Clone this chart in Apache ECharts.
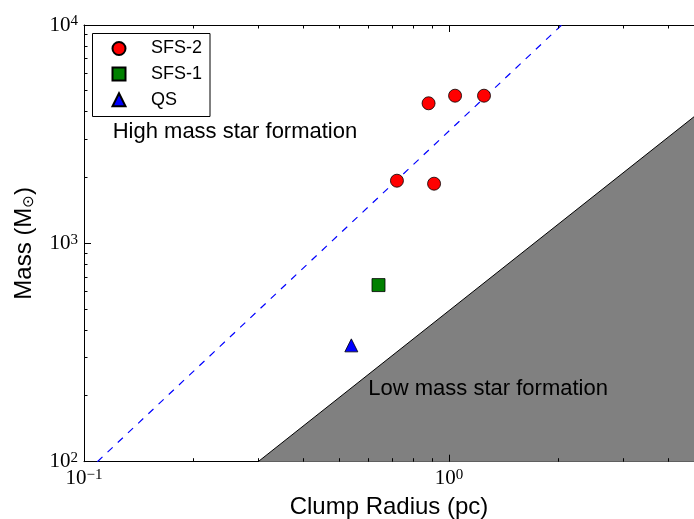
<!DOCTYPE html>
<html>
<head>
<meta charset="utf-8">
<script src="https://cdn.jsdelivr.net/npm/echarts@6/dist/echarts.min.js"></script>
<style>
  html, body { margin: 0; padding: 0; background: #fff; }
  #chart { width: 694px; height: 519px; }
</style>
</head>
<body>
<div id="chart"></div>
<script>
// Clump radius (pc) and mass (Msun) per evolutionary class
const sfs2Radius = [0.879, 1.039, 1.247, 0.720, 0.910];
const sfs2Mass   = [4380, 4745, 4745, 1936, 1876];
const sfs1Radius = [0.641];
const sfs1Mass   = [644];
const qsRadius   = [0.540];
const qsMass     = [341];

// Dashed high-mass threshold line (end points)
const highLineRadius = [0.1088, 2.036];
const highLineMass   = [100, 10000];

// Edge of the low-mass region (end points)
const lowEdgeRadius = [0.3, 4.69];
const lowEdgeMass   = [100, 3800];

// Axis extents and ticks
const xRange = [0.1, 4.69];
const yRange = [100, 10000];
const xMajorTicks = [0.1, 1];
const xMinorTicks = [0.2, 0.3, 0.4, 0.5, 0.6, 0.7, 0.8, 0.9, 2, 3, 4];
const yMajorTicks = [100, 1000, 10000];
const yMinorTicks = [200, 300, 400, 500, 600, 700, 800, 900,
                     2000, 3000, 4000, 5000, 6000, 7000, 8000, 9000];

const seriesNames = ['SFS-2', 'SFS-1', 'QS'];
const regionLabels = ['High mass star formation', 'Low mass star formation'];

const zip = (a, b) => a.map((v, i) => [v, b[i]]);

function isPow10(v) {
  const e = Math.log10(v);
  return Math.abs(e - Math.round(e)) < 1e-6;
}
function powLabel(v) {
  if (!isPow10(v)) return '';
  const r = Math.round(Math.log10(v));
  return '{b|10}{s|' + (r < 0 ? '\u2212' + (-r) : r) + '}';
}
const tickRich = {
  b: { fontFamily: 'Liberation Serif', fontSize: 21, color: '#000', lineHeight: 22 },
  s: { fontFamily: 'Liberation Serif', fontSize: 15, color: '#000', verticalAlign: 'top', lineHeight: 15, padding: [0, 0, 8, 0] }
};

const snap = p => Math.round(p - 0.5) + 0.5;
const tickStyle = { stroke: '#000', lineWidth: 1 };

// inward ticks on bottom/top for x, left for y
function xTickItem(params, api) {
  const cs = params.coordSys;
  const v = api.value(0);
  const len = isPow10(v) ? 7 : 3.5;
  const px = snap(api.coord([v, yRange[0]])[0]);
  const bottom = cs.y + cs.height, top = cs.y;
  return {
    type: 'group',
    children: [
      { type: 'line', shape: { x1: px, y1: bottom, x2: px, y2: bottom - len }, style: tickStyle },
      { type: 'line', shape: { x1: px, y1: top, x2: px, y2: top + len }, style: tickStyle }
    ]
  };
}
function yTickItem(params, api) {
  const cs = params.coordSys;
  const v = api.value(1);
  const len = isPow10(v) ? 7 : 3.5;
  const py = snap(api.coord([xRange[0], v])[1]);
  const left = cs.x;
  return {
    type: 'line',
    shape: { x1: left, y1: py, x2: left + len, y2: py },
    style: tickStyle
  };
}

const chart = echarts.init(document.getElementById('chart'), null, { renderer: 'canvas' });

const axisLineStyle = { show: true, lineStyle: { color: '#000', width: 1 } };

chart.setOption({
  animation: false,
  backgroundColor: '#fff',
  grid: { left: 84, top: 25, right: 0, bottom: 57.3, containLabel: false, outerBoundsMode: 'none' },
  xAxis: [
    {
      type: 'log', logBase: 10, min: xRange[0], max: xRange[1], position: 'bottom',
      axisLine: axisLineStyle, axisTick: { show: false }, splitLine: { show: false },
      axisLabel: { formatter: powLabel, rich: tickRich, margin: 6, showMaxLabel: false },
      name: 'Clump Radius (pc)', nameLocation: 'middle', nameGap: 33,
      nameTextStyle: { fontFamily: 'Liberation Sans', fontSize: 24, color: '#000' }
    },
    {
      type: 'log', logBase: 10, min: xRange[0], max: xRange[1], position: 'top',
      axisLine: axisLineStyle, axisTick: { show: false }, axisLabel: { show: false }, splitLine: { show: false }
    }
  ],
  yAxis: {
    type: 'log', logBase: 10, min: yRange[0], max: yRange[1],
    axisLine: axisLineStyle, axisTick: { show: false }, splitLine: { show: false },
    axisLabel: { formatter: powLabel, rich: tickRich, margin: 6 },
    name: '{n|Mass (M}{sub|\u2299}{n|)}', nameLocation: 'middle', nameGap: 47, nameRotate: 90,
    nameTextStyle: {
      rich: {
        n: { fontFamily: 'Liberation Sans', fontSize: 24, color: '#000', lineHeight: 26 },
        sub: { fontFamily: 'DejaVu Sans', fontSize: 15, color: '#000', verticalAlign: 'bottom', lineHeight: 15, padding: [6, 0, 0, 0] }
      }
    }
  },
  legend: {
    data: seriesNames,
    orient: 'vertical', left: 92.5, top: 33.5,
    itemWidth: 13, itemHeight: 13, itemGap: 7.6,
    padding: [6, 8, 7.8, 19],
    borderColor: '#000', borderWidth: 1, backgroundColor: '#fff',
    selectedMode: false,
    textStyle: { fontFamily: 'Liberation Sans', fontSize: 18, color: '#000', padding: [0, 0, 0, 20.5] }
  },
  series: [
    {
      name: 'low-mass region', type: 'line', data: zip(lowEdgeRadius, lowEdgeMass),
      symbol: 'none', silent: true, z: 1,
      lineStyle: { color: '#000', width: 1 },
      areaStyle: { color: '#808080', opacity: 1, origin: 'start' }
    },
    {
      name: 'high-mass threshold', type: 'line', data: zip(highLineRadius, highLineMass),
      symbol: 'none', silent: true, z: 2, clip: true,
      lineStyle: { color: '#0000ff', width: 1.2, type: [7, 7] }
    },
    {
      name: seriesNames[0], type: 'scatter', data: zip(sfs2Radius, sfs2Mass), z: 5,
      symbol: 'circle', symbolSize: 13,
      itemStyle: { color: '#ff0000', borderColor: '#000', borderWidth: 0.8, opacity: 1 }
    },
    {
      name: seriesNames[1], type: 'scatter', data: zip(sfs1Radius, sfs1Mass), z: 5,
      symbol: 'rect', symbolSize: 13,
      itemStyle: { color: '#008000', borderColor: '#000', borderWidth: 0.8, opacity: 1 }
    },
    {
      name: seriesNames[2], type: 'scatter', data: zip(qsRadius, qsMass), z: 5,
      symbol: 'triangle', symbolSize: 13,
      itemStyle: { color: '#0000ff', borderColor: '#000', borderWidth: 0.8, opacity: 1 }
    },
    {
      name: 'x ticks', type: 'custom', silent: true, z: 6,
      data: xMajorTicks.concat(xMinorTicks).map(v => [v, yRange[0]]),
      renderItem: xTickItem
    },
    {
      name: 'y ticks', type: 'custom', silent: true, z: 6,
      data: yMajorTicks.concat(yMinorTicks).map(v => [xRange[0], v]),
      renderItem: yTickItem
    }
  ],
  graphic: [
    {
      type: 'text', x: 112.7, y: 132, z: 10, silent: true,
      style: { text: regionLabels[0], fontFamily: 'Liberation Sans', fontSize: 22, fill: '#000', verticalAlign: 'middle' }
    },
    {
      type: 'text', x: 368.3, y: 389, z: 10, silent: true,
      style: { text: regionLabels[1], fontFamily: 'Liberation Sans', fontSize: 22, fill: '#000', verticalAlign: 'middle' }
    }
  ]
});
</script>
</body>
</html>
